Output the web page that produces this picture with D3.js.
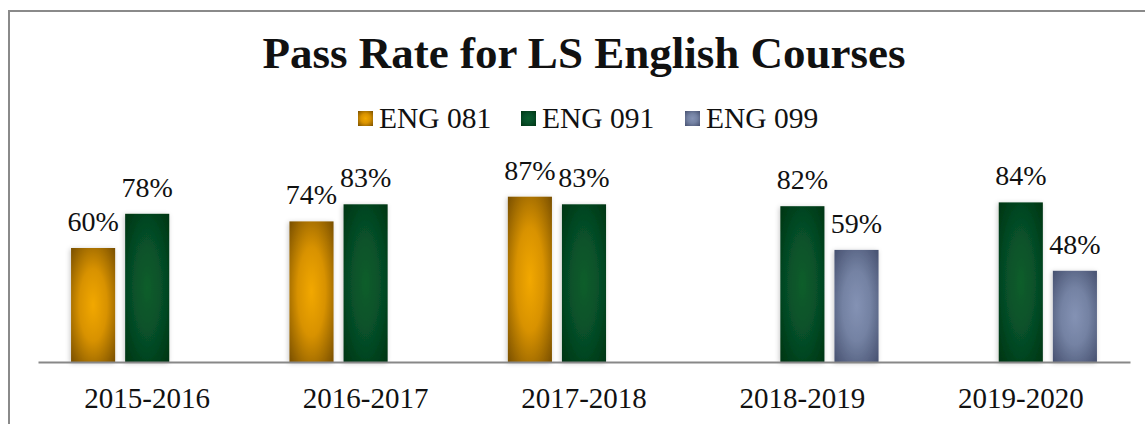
<!DOCTYPE html>
<html>
<head>
<meta charset="utf-8">
<script src="https://cdn.jsdelivr.net/npm/d3@7"></script>
<style>
  html, body { margin: 0; padding: 0; background: #fff; }
  svg { display: block; }
  text { font-family: "Liberation Serif", "Times New Roman", serif; fill: #111; }
</style>
</head>
<body>
<svg id="chart" width="1145" height="424"></svg>
<script>
const categories = ["2015-2016", "2016-2017", "2017-2018", "2018-2019", "2019-2020"];
const seriesNames = ["ENG 081", "ENG 091", "ENG 099"];
const eng081 = [60, 74, 87, null, null];
const eng091 = [78, 83, 83, 82, 84];
const eng099 = [null, null, null, 59, 48];
const seriesValues = [eng081, eng091, eng099];
const titleText = "Pass Rate for LS English Courses";

const palette = [
  { id: "g081", center: "#f2a800", mid: "#d89200", edge: "#7a5000" },
  { id: "g091", center: "#0a5e2b", mid: "#07502a", edge: "#003512" },
  { id: "g099", center: "#8492b4", mid: "#7482a3", edge: "#475170" }
];

const W = 1145, H = 424;
const svg = d3.select("#chart");
const defs = svg.append("defs");

palette.forEach(p => {
  const g = defs.append("radialGradient").attr("id", p.id)
    .attr("cx", "50%").attr("cy", "50%").attr("r", "70%");
  g.append("stop").attr("offset", "0%").attr("stop-color", p.center);
  g.append("stop").attr("offset", "45%").attr("stop-color", p.mid);
  g.append("stop").attr("offset", "100%").attr("stop-color", p.edge);
});

const f = defs.append("filter").attr("id", "glow")
  .attr("x", "-30%").attr("y", "-10%").attr("width", "160%").attr("height", "120%");
f.append("feGaussianBlur").attr("in", "SourceAlpha").attr("stdDeviation", 2.5).attr("result", "b");
f.append("feOffset").attr("in", "b").attr("dx", -1).attr("dy", 1).attr("result", "o");
f.append("feFlood").attr("flood-color", "#000").attr("flood-opacity", 0.22);
f.append("feComposite").attr("in2", "o").attr("operator", "in").attr("result", "s");
const fm = f.append("feMerge");
fm.append("feMergeNode").attr("in", "s");
fm.append("feMergeNode").attr("in", "SourceGraphic");

// outer frame
svg.append("rect").attr("x", 9).attr("y", 11).attr("width", W + 20).attr("height", H + 20)
  .attr("fill", "none").attr("stroke", "#8a8a8a").attr("stroke-width", 2);

const x0 = d3.scaleBand().domain(categories).range([38, 1130]).padding(0);
const x1 = d3.scaleBand().domain(seriesNames).range([0, x0.bandwidth()])
  .paddingInner(0.185).paddingOuter(0.611);
const y = d3.scaleLinear().domain([0, 100]).range([362, 172]);

// title
svg.append("text").attr("x", 584).attr("y", 68).attr("text-anchor", "middle")
  .style("font-size", "45px").style("font-weight", "bold").text(titleText);

// legend
const legendX = [358, 521, 685];
const lg = svg.append("g");
seriesNames.forEach((s, i) => {
  lg.append("rect").attr("x", legendX[i]).attr("y", 111).attr("width", 15).attr("height", 15)
    .attr("fill", `url(#${palette[i].id})`);
  lg.append("text").attr("x", legendX[i] + 21).attr("y", 128)
    .style("font-size", "29.5px").text(s);
});

// bars
const data = [];
categories.forEach((c, ci) => {
  seriesNames.forEach((s, si) => {
    const v = seriesValues[si][ci];
    if (v != null) data.push({ c, s, si, v });
  });
});

const bars = svg.append("g");
bars.selectAll("rect").data(data).join("rect")
  .attr("x", d => x0(d.c) + x1(d.s))
  .attr("y", d => y(d.v))
  .attr("width", x1.bandwidth())
  .attr("height", d => y(0) - y(d.v))
  .attr("fill", d => `url(#${palette[d.si].id})`)
  .attr("filter", "url(#glow)");

svg.append("g").selectAll("text").data(data).join("text")
  .attr("x", d => x0(d.c) + x1(d.s) + x1.bandwidth() / 2)
  .attr("y", d => y(d.v) - 17)
  .attr("text-anchor", "middle")
  .style("font-size", "28px")
  .text(d => d.v + "%");

// axis
const axis = d3.axisBottom(x0).tickSize(0).tickPadding(0);
const ax = svg.append("g").attr("transform", "translate(0,362)").call(axis);
ax.select(".domain").attr("stroke", "#888").attr("stroke-width", 2);
ax.selectAll(".tick text").attr("y", 46).attr("dy", null)
  .style("font-size", "29px").style("font-family", '"Liberation Serif", serif').attr("fill", "#111");
</script>
</body>
</html>
